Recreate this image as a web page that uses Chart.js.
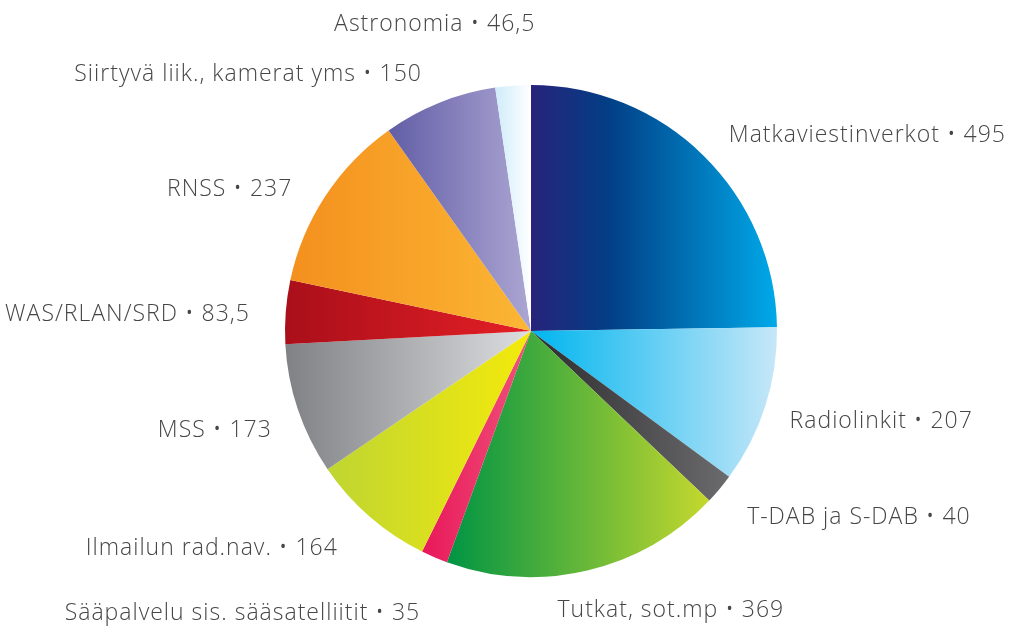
<!DOCTYPE html>
<html>
<head>
<meta charset="utf-8">
<script src="https://cdn.jsdelivr.net/npm/chart.js@4"></script>
<style>
  html, body { margin: 0; padding: 0; background: #fff; }
  #wrap { width: 1011px; height: 628px; }
</style>
</head>
<body>
<div id="wrap"><canvas id="pie" width="1011" height="628"></canvas></div>
<script>
const LABELS = [
  'Matkaviestinverkot', 'Radiolinkit', 'T-DAB ja S-DAB', 'Tutkat, sot.mp',
  'Sääpalvelu sis. sääsatelliitit', 'Ilmailun rad.nav.', 'MSS', 'WAS/RLAN/SRD',
  'RNSS', 'Siirtyvä liik., kamerat yms', 'Astronomia',
];
const VALUES = [495, 207, 40, 369, 35, 164, 173, 83.5, 237, 150, 46.5];

// gradient stops, left -> right across each slice
const GRADS = [
  ['#27237a', '#023f86', '#00a9e9'],
  ['#00b5ef', '#c6e7f8'],
  ['#2c2c2e', '#6b6b6d'],
  ['#009444', '#c5d82e'],
  ['#e8185a', '#f0537b'],
  ['#bfd532', '#f4ea0b'],
  ['#7f8184', '#dddee0'],
  ['#a90f1a', '#e51f26'],
  ['#f4901e', '#fbb634'],
  ['#625ea6', '#aca6d3'],
  ['#cfecfa', '#ffffff'],
];

// small label nudges where the original moved labels off the radial spot
const NUDGE = { 1: [-10, 0], 3: [-38, 0], 4: [0, 18], 5: [-8, 0], 6: [8, 4], 8: [-3, 8], 9: [-4, 0], 10: [25, -30] };

const fmt = v => String(v).replace('.', ',');

function arcGradient(c, arc, stops) {
  const { x, startAngle, endAngle, outerRadius } = arc;
  const xs = [x, x + outerRadius * Math.cos(startAngle), x + outerRadius * Math.cos(endAngle)];
  // include extreme horizontal points if the arc crosses 0 or PI
  for (let k = -4; k <= 4; k++) {
    const a = k * Math.PI;
    if (a > startAngle && a < endAngle) xs.push(x + outerRadius * Math.cos(a));
  }
  const x0 = Math.min(...xs), x1 = Math.max(...xs);
  const g = c.createLinearGradient(x0, 0, x1 + 0.01, 0);
  stops.forEach((col, i) => g.addColorStop(stops.length === 3 && i === 1 ? 0.32 : i / (stops.length - 1), col));
  return g;
}

const sliceGradients = {
  id: 'sliceGradients',
  beforeDatasetsDraw(chart) {
    chart.getDatasetMeta(0).data.forEach((arc, i) => {
      arc.options.backgroundColor = arcGradient(chart.ctx, arc, GRADS[i]);
    });
  },
};

const outsideLabels = {
  id: 'outsideLabels',
  afterDatasetsDraw(chart) {
    const c = chart.ctx;
    const arcs = chart.getDatasetMeta(0).data;
    c.save();
    c.font = '300 23px "Open Sans"';
    c.letterSpacing = '1px';
    c.fillStyle = '#464646';
    c.textBaseline = 'middle';
    arcs.forEach((arc, i) => {
      const mid = (arc.startAngle + arc.endAngle) / 2;
      const r = arc.outerRadius + 36;
      const nd = NUDGE[i] || [0, 0];
      const lx = arc.x + r * Math.cos(mid) + nd[0];
      const ly = arc.y + r * Math.sin(mid) + nd[1] + 5;
      c.textAlign = Math.cos(mid) >= 0 ? 'left' : 'right';
      c.fillText(LABELS[i] + ' \u2022 ' + fmt(VALUES[i]), lx, ly);
    });
    c.restore();
  },
};

new Chart(document.getElementById('pie').getContext('2d'), {
  type: 'pie',
  data: {
    labels: LABELS,
    datasets: [{
      data: VALUES,
      backgroundColor: GRADS.map(g => g[0]),
      borderWidth: 0,
    }],
  },
  options: {
    responsive: false,
    animation: false,
    radius: 246,
    layout: { padding: { left: 51, top: 34, right: 0, bottom: 0 } },
    plugins: { legend: { display: false }, tooltip: { enabled: false } },
  },
  plugins: [sliceGradients, outsideLabels],
});
</script>
</body>
</html>
